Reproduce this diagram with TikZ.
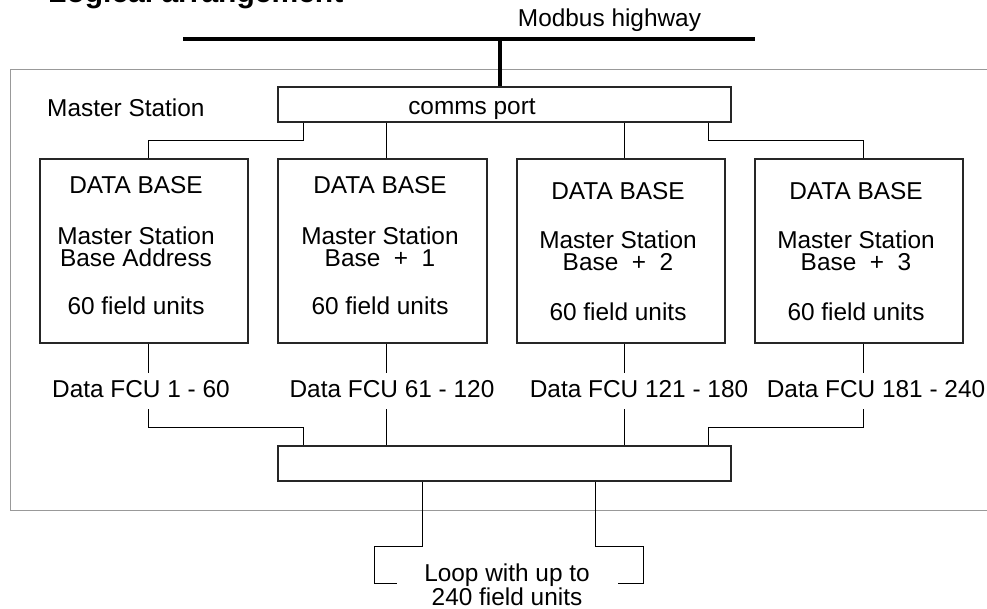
\documentclass[tikz,border=0pt]{standalone}
\usepackage{fontspec}
\setmainfont{Liberation Sans}
\begin{document}
\begin{tikzpicture}[x=1pt,y=-1pt,
  txt/.style={font=\fontsize{24.4}{22}\selectfont, inner sep=0pt, anchor=base},
  dbbox/.style={draw=black!85, line width=1.1pt, rectangle, inner sep=0pt,
                minimum width=208pt, minimum height=184pt},
  portbox/.style={draw=black!85, line width=1.1pt, rectangle, inner sep=0pt,
                minimum width=453pt, minimum height=35pt},
  conn/.style={draw=black, line width=1pt},
  highway/.style={draw=black, line width=3.4pt},
  framebox/.style={draw=black!40, line width=0.9pt}]
\useasboundingbox (0,0) rectangle (987,609);

% partially visible title (cut off by the top edge, as in the reference)
\node[font=\bfseries\fontsize{30}{30}\selectfont, anchor=base west, inner sep=0pt] (title) at (48,3) {Logical arrangement};

% outer frame (runs off the right edge)
\draw[framebox] (1000,69) -- (10,69) -- (10,510) -- (1000,510);
\node[txt, anchor=base west] (mslbl) at (47,117) {Master Station};

% Modbus highway
\coordinate (hwL) at (183,39);
\coordinate (hwR) at (755,39);
\draw[highway] (hwL) -- (hwR);
\node[txt] (hwlbl) at (609.5,27) {Modbus highway};

% comms port
\node[portbox] (comms) at (504.5,104.5) {};
\node[txt] (commslbl) at (472,115) {comms port};
\coordinate (tap) at (500,39);
\draw[highway] (tap) -- (tap |- comms.north);

% data base boxes
\node[dbbox] (db1) at (144,251) {};
\node[dbbox, minimum width=209pt] (db2) at (382.5,251) {};
\node[dbbox] (db3) at (621,251) {};
\node[dbbox] (db4) at (859,251) {};

\node[txt] (h1) at (136,194) {DATA BASE};
\node[txt] (m1) at (136,245) {Master Station};
\node[txt] (b1) at (136,267) {Base Address};
\node[txt] (f1) at (136,315) {60 field units};

\node[txt] (h2) at (380,194) {DATA BASE};
\node[txt] (m2) at (380,245) {Master Station};
\node[txt] (b2) at (380,267) {Base\ \ +\ \ 1};
\node[txt] (f2) at (380,315) {60 field units};

\node[txt] (h3) at (618,200) {DATA BASE};
\node[txt] (m3) at (618,249) {Master Station};
\node[txt] (b3) at (618,271) {Base\ \ +\ \ 2};
\node[txt] (f3) at (618,320) {60 field units};

\node[txt] (h4) at (856,200) {DATA BASE};
\node[txt] (m4) at (856,249) {Master Station};
\node[txt] (b4) at (856,271) {Base\ \ +\ \ 3};
\node[txt] (f4) at (856,320) {60 field units};

% comms port -> data bases
\coordinate (k1) at (303,141);
\coordinate (a1) at (148,141);
\coordinate (k2) at (386,0);
\coordinate (k3) at (624,0);
\coordinate (k4) at (708,141);
\coordinate (a4) at (863,141);
\draw[conn] (comms.south -| k1) -- (k1) -- (a1) -- (a1 |- db1.north);
\draw[conn] (comms.south -| k2) -- (db2.north -| k2);
\draw[conn] (comms.south -| k3) -- (db3.north -| k3);
\draw[conn] (comms.south -| k4) -- (k4) -- (a4) -- (a4 |- db4.north);

% Data FCU labels
\node[txt] (d1) at (141,397) {Data FCU 1 - 60};
\node[txt] (d2) at (392,397) {Data FCU 61 - 120};
\node[txt] (d3) at (639,397) {Data FCU 121 - 180};
\node[txt] (d4) at (876,397) {Data FCU 181 - 240};

% lower port
\node[portbox] (bus) at (504.5,463.5) {};

% data bases -> lower port
\coordinate (p1) at (148,373);
\coordinate (q1) at (148,409);
\coordinate (r1) at (303,427);
\coordinate (p2) at (386,373);
\coordinate (q2) at (386,409);
\coordinate (p3) at (624,373);
\coordinate (q3) at (624,409);
\coordinate (p4) at (863,373);
\coordinate (q4) at (863,409);
\coordinate (r4) at (708,427);
\draw[conn] (db1.south -| p1) -- (p1);
\draw[conn] (q1) |- (r1) -- (r1 |- bus.north);
\draw[conn] (db2.south -| p2) -- (p2);
\draw[conn] (q2) -- (q2 |- bus.north);
\draw[conn] (db3.south -| p3) -- (p3);
\draw[conn] (q3) -- (q3 |- bus.north);
\draw[conn] (db4.south -| p4) -- (p4);
\draw[conn] (q4) |- (r4) -- (r4 |- bus.north);

% field loop
\coordinate (lA) at (422,0);
\coordinate (lb1) at (374,546);
\coordinate (le1) at (397,583);
\coordinate (lA2) at (595,0);
\coordinate (lb2) at (643,546);
\coordinate (le2) at (618,583);
\draw[conn] (bus.south -| lA) |- (lb1) |- (le1);
\draw[conn] (bus.south -| lA2) |- (lb2) |- (le2);
\node[txt] (loop1) at (507,581) {Loop with up to};
\node[txt] (loop2) at (507,605) {240 field units};
\end{tikzpicture}
\end{document}
